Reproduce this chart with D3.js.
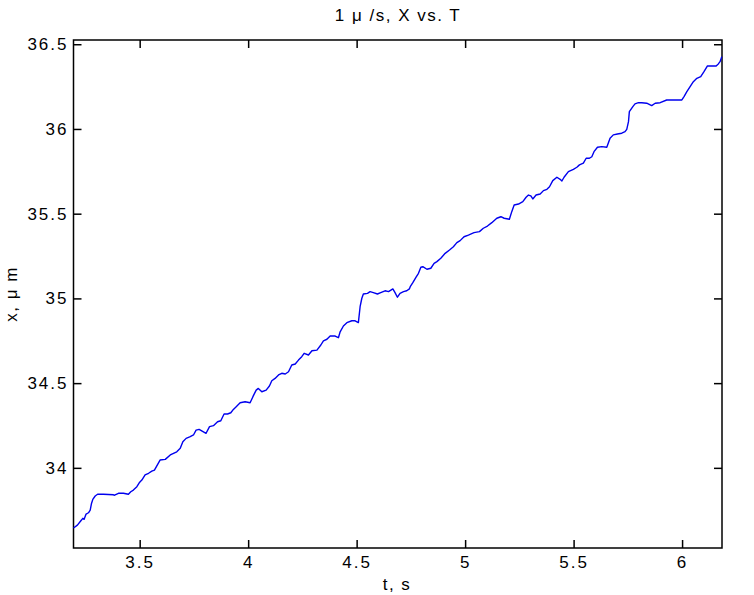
<!DOCTYPE html>
<html>
<head>
<meta charset="utf-8">
<script src="https://cdn.jsdelivr.net/npm/d3@7"></script>
<style>
  html, body { margin: 0; padding: 0; background: #fff; }
  svg { display: block; }
  text { font-family: "Liberation Sans", Arial, sans-serif; fill: #000; }
</style>
</head>
<body>
<svg id="chart" width="754" height="595"></svg>
<script>
// ---- Data (time in s, position in µm) ----
const timeS = [
  3.195, 3.213, 3.229, 3.238, 3.244, 3.253, 3.264, 3.272, 3.278, 3.284,
  3.295, 3.306, 3.333, 3.379, 3.382, 3.402, 3.425, 3.448, 3.459, 3.471,
  3.487, 3.498, 3.510, 3.525, 3.541, 3.556, 3.568, 3.594, 3.618, 3.641,
  3.671, 3.687, 3.699, 3.714, 3.733, 3.748, 3.760, 3.774, 3.788, 3.806,
  3.822, 3.840, 3.859, 3.874, 3.889, 3.905, 3.920, 3.932, 3.945, 3.963,
  3.986, 4.009, 4.022, 4.037, 4.047, 4.063, 4.083, 4.098, 4.109, 4.124,
  4.140, 4.155, 4.171, 4.186, 4.201, 4.217, 4.232, 4.247, 4.258, 4.278,
  4.294, 4.317, 4.335, 4.347, 4.363, 4.378, 4.401, 4.416, 4.424, 4.439,
  4.455, 4.478, 4.493, 4.508, 4.516, 4.524, 4.531, 4.550, 4.562, 4.577,
  4.596, 4.611, 4.631, 4.647, 4.667, 4.677, 4.688, 4.700, 4.716, 4.731,
  4.743, 4.747, 4.759, 4.774, 4.785, 4.796, 4.805, 4.824, 4.842, 4.857,
  4.870, 4.888, 4.908, 4.928, 4.946, 4.962, 4.977, 4.995, 5.015, 5.041,
  5.066, 5.084, 5.103, 5.123, 5.146, 5.165, 5.180, 5.204, 5.215, 5.226,
  5.246, 5.266, 5.281, 5.292, 5.303, 5.312, 5.327, 5.346, 5.361, 5.377,
  5.389, 5.404, 5.423, 5.438, 5.446, 5.456, 5.476, 5.499, 5.515, 5.527,
  5.545, 5.558, 5.573, 5.584, 5.594, 5.610, 5.630, 5.653, 5.668, 5.683,
  5.702, 5.722, 5.737, 5.745, 5.753, 5.757, 5.773, 5.783, 5.799, 5.814,
  5.837, 5.860, 5.876, 5.899, 5.929, 5.953, 5.976, 5.999, 6.009, 6.022,
  6.037, 6.052, 6.068, 6.086, 6.101, 6.117, 6.137, 6.157, 6.167, 6.175,
  6.183
];
const positionUm = [
  33.645, 33.662, 33.688, 33.702, 33.696, 33.727, 33.735, 33.751, 33.790, 33.814,
  33.834, 33.844, 33.844, 33.841, 33.838, 33.850, 33.850, 33.844, 33.859, 33.869,
  33.889, 33.912, 33.928, 33.958, 33.968, 33.981, 33.987, 34.046, 34.050, 34.076,
  34.095, 34.115, 34.154, 34.174, 34.184, 34.194, 34.223, 34.227, 34.217, 34.204,
  34.243, 34.249, 34.272, 34.278, 34.318, 34.318, 34.325, 34.345, 34.361, 34.384,
  34.390, 34.384, 34.420, 34.459, 34.469, 34.449, 34.459, 34.483, 34.514, 34.528,
  34.548, 34.558, 34.554, 34.567, 34.607, 34.613, 34.636, 34.656, 34.676, 34.666,
  34.691, 34.695, 34.725, 34.750, 34.759, 34.778, 34.778, 34.768, 34.803, 34.837,
  34.857, 34.868, 34.868, 34.857, 34.951, 35.001, 35.026, 35.030, 35.040, 35.034,
  35.026, 35.034, 35.045, 35.040, 35.056, 35.034, 35.007, 35.030, 35.040, 35.045,
  35.056, 35.069, 35.093, 35.125, 35.148, 35.184, 35.187, 35.172, 35.178, 35.207,
  35.217, 35.237, 35.266, 35.286, 35.305, 35.329, 35.341, 35.364, 35.374, 35.388,
  35.394, 35.414, 35.427, 35.447, 35.473, 35.482, 35.473, 35.467, 35.512, 35.551,
  35.557, 35.571, 35.597, 35.610, 35.605, 35.587, 35.610, 35.616, 35.636, 35.644,
  35.659, 35.695, 35.715, 35.703, 35.693, 35.715, 35.748, 35.762, 35.774, 35.788,
  35.798, 35.827, 35.827, 35.836, 35.866, 35.892, 35.896, 35.892, 35.945, 35.965,
  35.970, 35.975, 35.984, 35.998, 36.043, 36.102, 36.132, 36.148, 36.155, 36.155,
  36.152, 36.138, 36.152, 36.155, 36.171, 36.171, 36.171, 36.171, 36.191, 36.220,
  36.250, 36.279, 36.299, 36.309, 36.338, 36.372, 36.372, 36.372, 36.384, 36.397,
  36.427
];
const xTicks = [3.5, 4, 4.5, 5, 5.5, 6];
const xTickLabels = ["3.5", "4", "4.5", "5", "5.5", "6"];
const yTicks = [34, 34.5, 35, 35.5, 36, 36.5];
const yTickLabels = ["34", "34.5", "35", "35.5", "36", "36.5"];
const xDomain = [3.195, 6.184];
const yDomain = [33.527, 36.525];
const titleText = "1 \u03bc /s,  X vs. T";
const xLabelText = "t, s";
const yLabelText = "x, \u03bc m";

// ---- Layout ----
const plot = { left: 73.5, right: 722, top: 40, bottom: 548 };
const svg = d3.select("#chart");

const x = d3.scaleLinear().domain(xDomain).range([plot.left, plot.right]);
const y = d3.scaleLinear().domain(yDomain).range([plot.bottom, plot.top]);

const fontSize = 17;
const tickLen = 8;

// frame
svg.append("rect")
  .attr("x", plot.left).attr("y", plot.top)
  .attr("width", plot.right - plot.left).attr("height", plot.bottom - plot.top)
  .attr("fill", "none").attr("stroke", "#000").attr("stroke-width", 1.5);

function styleAxis(g, showLabels) {
  g.select(".domain").remove();
  g.selectAll(".tick line").attr("stroke", "#000").attr("stroke-width", 1.5);
  g.selectAll(".tick text")
    .style("font-size", fontSize + "px")
    .style("letter-spacing", "2px")
    .attr("fill", "#111");
  if (!showLabels) g.selectAll(".tick text").remove();
}

const fmtX = d => xTickLabels[xTicks.indexOf(d)];
const fmtY = d => yTickLabels[yTicks.indexOf(d)];

// bottom
svg.append("g").attr("transform", `translate(0,${plot.bottom})`)
  .call(d3.axisBottom(x).tickValues(xTicks).tickFormat(fmtX).tickSize(-tickLen).tickPadding(8))
  .call(g => styleAxis(g, true));
// top
svg.append("g").attr("transform", `translate(0,${plot.top})`)
  .call(d3.axisTop(x).tickValues(xTicks).tickSize(-tickLen))
  .call(g => styleAxis(g, false));
// left
svg.append("g").attr("transform", `translate(${plot.left},0)`)
  .call(d3.axisLeft(y).tickValues(yTicks).tickFormat(fmtY).tickSize(-tickLen).tickPadding(5))
  .call(g => styleAxis(g, true));
// right
svg.append("g").attr("transform", `translate(${plot.right},0)`)
  .call(d3.axisRight(y).tickValues(yTicks).tickSize(-tickLen))
  .call(g => styleAxis(g, false));

// line
const data = timeS.map((t, i) => ({ t, v: positionUm[i] }));
svg.append("path")
  .datum(data)
  .attr("fill", "none")
  .attr("stroke", "#0000ee")
  .attr("stroke-width", 1.4)
  .attr("stroke-linejoin", "round")
  .attr("d", d3.line().x(d => x(d.t)).y(d => y(d.v)));

// title & labels
svg.append("text")
  .attr("x", 398).attr("y", 15).attr("dy", "0.35em")
  .attr("text-anchor", "middle")
  .style("font-size", fontSize + "px").style("letter-spacing", "1.5px")
  .text(titleText);
svg.append("text")
  .attr("x", 397).attr("y", 584).attr("dy", "0.35em")
  .attr("text-anchor", "middle")
  .style("font-size", fontSize + "px").style("letter-spacing", "1.5px")
  .text(xLabelText);
svg.append("text")
  .attr("transform", `translate(11,294) rotate(-90)`)
  .attr("dy", "0.35em")
  .attr("text-anchor", "middle")
  .style("font-size", fontSize + "px").style("letter-spacing", "1.5px")
  .text(yLabelText);
</script>
</body>
</html>
